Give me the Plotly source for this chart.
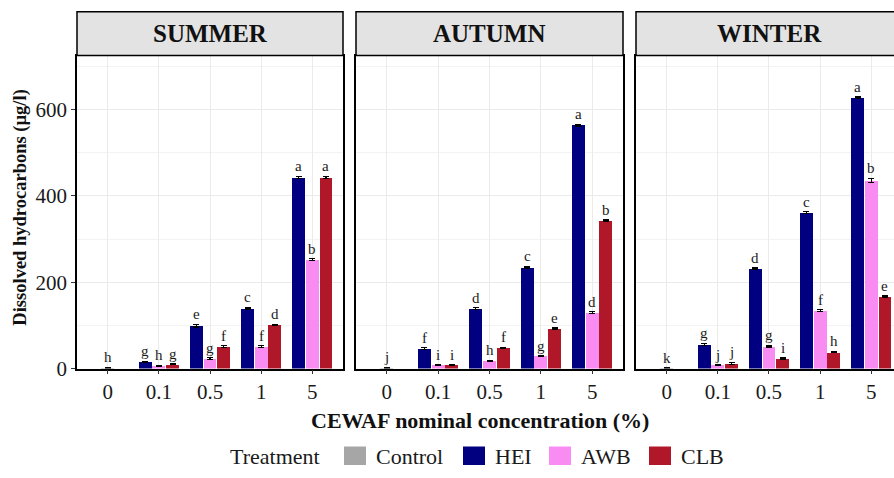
import plotly.graph_objects as go

# ---------------- data ----------------
concentrations = ["0", "0.1", "0.5", "1", "5"]
treated_conc = ["0.1", "0.5", "1", "5"]
seasons = ["SUMMER", "AUTUMN", "WINTER"]
treatments = ["Control", "HEI", "AWB", "CLB"]

# Control only at 0 % (one value per season)
control_values = [2, 2, 1]
control_sd = [1, 1, 1]
control_letters = ["h", "j", "k"]

# SUMMER
hei_summer = [15, 99, 140, 443]
awb_summer = [6, 23, 51, 252]
clb_summer = [10, 51, 101, 443]
hei_summer_sd = [1.5, 3, 2, 2]
awb_summer_sd = [1, 2, 2, 2]
clb_summer_sd = [1.5, 1.5, 1.5, 2]
hei_summer_let = ["g", "e", "c", "a"]
awb_summer_let = ["h", "g", "f", "b"]
clb_summer_let = ["g", "f", "d", "a"]

# AUTUMN
hei_autumn = [46, 139, 235, 564]
awb_autumn = [8, 18, 29, 130]
clb_autumn = [8, 48, 92, 342]
hei_autumn_sd = [2, 2, 2, 2]
awb_autumn_sd = [1, 1, 1, 2]
clb_autumn_sd = [1, 1.5, 2, 2]
hei_autumn_let = ["f", "d", "c", "a"]
awb_autumn_let = ["i", "h", "g", "d"]
clb_autumn_let = ["i", "f", "e", "b"]

# WINTER
hei_winter = [56, 232, 361, 627]
awb_winter = [8, 52, 134, 436]
clb_winter = [12, 23, 38, 167]
hei_winter_sd = [2, 1.5, 2, 2]
awb_winter_sd = [1, 2, 2, 5]
clb_winter_sd = [2, 1.5, 1.5, 1.5]
hei_winter_let = ["g", "d", "c", "a"]
awb_winter_let = ["j", "g", "f", "b"]
clb_winter_let = ["j", "i", "h", "e"]

season_data = {
    "SUMMER": {"HEI": (hei_summer, hei_summer_sd, hei_summer_let),
               "AWB": (awb_summer, awb_summer_sd, awb_summer_let),
               "CLB": (clb_summer, clb_summer_sd, clb_summer_let)},
    "AUTUMN": {"HEI": (hei_autumn, hei_autumn_sd, hei_autumn_let),
               "AWB": (awb_autumn, awb_autumn_sd, awb_autumn_let),
               "CLB": (clb_autumn, clb_autumn_sd, clb_autumn_let)},
    "WINTER": {"HEI": (hei_winter, hei_winter_sd, hei_winter_let),
               "AWB": (awb_winter, awb_winter_sd, awb_winter_let),
               "CLB": (clb_winter, clb_winter_sd, clb_winter_let)},
}

# ---------------- style ----------------
colors = {"Control": "#A6A6A6", "HEI": "#000080", "AWB": "#F88CF3", "CLB": "#B0182A"}
dodge = {"Control": 0.0, "HEI": -0.267, "AWB": 0.0, "CLB": 0.267}
bar_w = 0.25
FONT = "Liberation Serif"
W, H = 894, 478

x_domains = [[77 / W, 343 / W], [356 / W, 623 / W], [636 / W, 1.0]]
x_ranges = [[-0.6, 4.6], [-0.6, 4.6], [-0.6, -0.6 + 258 / 51.15]]
y_dom = [1 - 378 / H, 1 - 57 / H]
strip_y = [1 - 57 / H, 1 - 12 / H]

fig = go.Figure()
annotations = []
shapes = []
err_style = dict(type="data", color="black", thickness=1.2, width=3)
letter_font = dict(family=FONT, size=15, color="#1a1a1a")

for i, season in enumerate(seasons):
    n = "" if i == 0 else str(i + 1)
    xa, ya = "x" + n, "y" + n
    # control bar
    cx = [concentrations.index("0") + dodge["Control"]]
    fig.add_trace(go.Bar(
        x=cx, y=[control_values[i]], width=bar_w, xaxis=xa, yaxis=ya,
        marker=dict(color=colors["Control"], line=dict(width=0)),
        error_y=dict(array=[control_sd[i]], **err_style),
        name="Control", showlegend=False))
    annotations.append(dict(x=cx[0], y=control_values[i] + control_sd[i], xref=xa, yref=ya,
                            text=control_letters[i], showarrow=False, yanchor="bottom", yshift=0,
                            font=letter_font))
    for t in ["HEI", "AWB", "CLB"]:
        vals, sds, lets = season_data[season][t]
        xs = [concentrations.index(c) + dodge[t] for c in treated_conc]
        fig.add_trace(go.Bar(
            x=xs, y=vals, width=bar_w, xaxis=xa, yaxis=ya,
            marker=dict(color=colors[t], line=dict(width=0)),
            error_y=dict(array=sds, **err_style),
            name=t, showlegend=False))
        for xv, v, s, l in zip(xs, vals, sds, lets):
            annotations.append(dict(x=xv, y=v + s, xref=xa, yref=ya, text=l, showarrow=False,
                                    yanchor="bottom", yshift=0, font=letter_font))
    # strip
    shapes.append(dict(type="rect", xref=xa + " domain", yref="paper",
                       x0=0, x1=(1 if i < 2 else 1.06), y0=strip_y[0], y1=strip_y[1],
                       fillcolor="#E3E3E3", line=dict(color="black", width=1.5), layer="above"))
    annotations.append(dict(x=(0.5 if i < 2 else (769 - 636) / 258), y=(strip_y[0] + strip_y[1]) / 2,
                            xref=xa + " domain", yref="paper", text="<b>%s</b>" % season,
                            showarrow=False, xanchor="center", yanchor="middle",
                            font=dict(family=FONT, size=25, color="#111")))

    fig.update_layout(**{
        ("xaxis" + n): dict(domain=x_domains[i], range=x_ranges[i], anchor=ya,
                            tickvals=list(range(len(concentrations))), ticktext=concentrations,
                            showgrid=True, gridcolor="#EBEBEB", gridwidth=1, zeroline=False,
                            showline=True, linecolor="black", linewidth=1.5, mirror=True,
                            ticks="outside", ticklen=4, tickcolor="#333",
                            tickfont=dict(family=FONT, size=21, color="#1a1a1a"), fixedrange=True),
        ("yaxis" + n): dict(domain=y_dom, range=[0, 725], anchor=xa,
                            tickvals=[0, 200, 400, 600], showticklabels=(i == 0),
                            showgrid=True, gridcolor="#EBEBEB", gridwidth=1, zeroline=False,
                            minor=dict(tickvals=[100, 300, 500, 700], showgrid=True,
                                       gridcolor="#F3F3F3", gridwidth=0.6),
                            showline=True, linecolor="black", linewidth=1.5, mirror=(i < 2),
                            ticks=("outside" if i == 0 else ""), ticklen=4, tickcolor="#333",
                            tickfont=dict(family=FONT, size=21, color="#1a1a1a"), fixedrange=True),
    })

# axis titles
annotations.append(dict(x=21 / W, y=1 - 213 / H, xref="paper", yref="paper",
                        text="<b>Dissolved hydrocarbons (µg/l)</b>", textangle=-90, showarrow=False,
                        xanchor="center", yanchor="middle", font=dict(family=FONT, size=18.5, color="#111")))
annotations.append(dict(x=480 / W, y=1 - 431 / H, xref="paper", yref="paper",
                        text="<b>CEWAF nominal concentration (%)</b>", showarrow=False,
                        xanchor="center", yanchor="middle", font=dict(family=FONT, size=22, color="#111")))

# legend (drawn manually)
leg_y = 1 - 468 / H
annotations.append(dict(x=228 / W, y=leg_y, xref="paper", yref="paper", text="Treatment",
                        showarrow=False, xanchor="left", yanchor="middle",
                        font=dict(family=FONT, size=22, color="#1a1a1a")))
key_left = {"Control": 344, "HEI": 463, "AWB": 549, "CLB": 649}
for t in treatments:
    x0 = key_left[t]
    shapes.append(dict(type="rect", xref="paper", yref="paper",
                       x0=x0 / W, x1=(x0 + 22) / W, y0=1 - 477 / H, y1=1 - 458 / H,
                       fillcolor=colors[t], line=dict(width=0)))
    annotations.append(dict(x=(x0 + 30) / W, y=leg_y, xref="paper", yref="paper", text=t,
                            showarrow=False, xanchor="left", yanchor="middle",
                            font=dict(family=FONT, size=22, color="#1a1a1a")))

fig.update_layout(width=W, height=H, margin=dict(l=0, r=0, t=0, b=0),
                  paper_bgcolor="white", plot_bgcolor="white", showlegend=False,
                  bargap=0, annotations=annotations, shapes=shapes,
                  font=dict(family=FONT))

fig.write_html("out.html")
